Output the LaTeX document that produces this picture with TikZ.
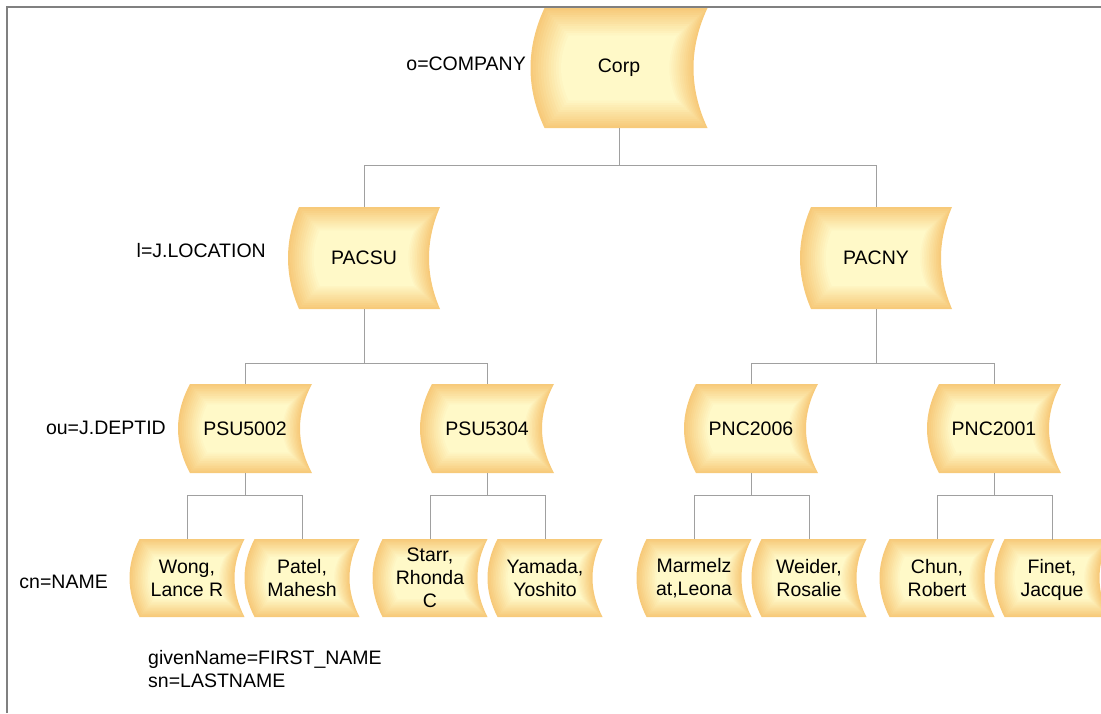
\documentclass[tikz,border=0pt]{standalone}
\usepackage{fontspec}
\setmainfont{Liberation Sans}
\usepackage{xcolor}
\usepackage{tikz}
\usetikzlibrary{positioning, calc, backgrounds}
\definecolor{bannerout}{RGB}{247,202,122}
\definecolor{bannerin}{RGB}{255,249,200}
\definecolor{linkgray}{RGB}{160,160,160}
\definecolor{framegray}{RGB}{128,128,128}

% concentric bands of a banner of width #1, height #2, bulge #3, at the origin
\newcommand{\bannerfill}[3]{%
  \foreach \k in {0,...,12}{%
    \pgfmathsetmacro{\ins}{\k*0.019*#2}
    \pgfmathsetmacro{\bw}{#1-2*\ins}
    \pgfmathsetmacro{\bh}{#2-2*\ins}
    \pgfmathsetmacro{\bd}{#3*\bh/#2}
    \pgfmathsetmacro{\xl}{-\bw/2+\bd/2}
    \pgfmathsetmacro{\xr}{\bw/2+\bd/2}
    \pgfmathsetmacro{\cl}{-\bw/2-5*\bd/6}
    \pgfmathsetmacro{\cr}{\bw/2-5*\bd/6}
    \pgfmathsetmacro{\hy}{\bh/2}
    \pgfmathsetmacro{\qy}{\bh/6}
    \pgfmathtruncatemacro{\mix}{100-\k*100/12}
    \fill[bannerout!\mix!bannerin]
      (\xl,-\hy) -- (\xr,-\hy) .. controls (\cr,-\qy) and (\cr,\qy) .. (\xr,\hy)
      -- (\xl,\hy) .. controls (\cl,\qy) and (\cl,-\qy) .. (\xl,-\hy) -- cycle;
  }%
}

\begin{document}
\begin{tikzpicture}[x=1pt, y=-1pt,
    font=\fontsize{19.5}{23}\selectfont,
    entry/.style 2 args={minimum width=#1, minimum height=#2,
      inner sep=0pt, align=center},
    rootbox/.style={entry={177}{120}},
    locbox/.style={entry={152}{102}},
    deptbox/.style={entry={134}{89}},
    personbox/.style={entry={115}{78}},
    level/.style={anchor=east, inner sep=0pt},
    link/.style={draw=linkgray, line width=1pt},
    frame/.style={draw=framegray, line width=1.5pt}]
    \useasboundingbox (0,0) rectangle (1101,713);
    \clip (0,0) rectangle (1101,713);
    \draw[frame] (7,713) -- (7,7) -- (1101,7);

    % tree
    \node[rootbox] (corp) at (619,68) {Corp};
    \node[locbox] (pacsu) at (364,258) {PACSU};
    \node[locbox] (pacny) at (876,258) {PACNY};
    \node[deptbox] (psu5002) at (245,428.5) {PSU5002};
    \node[deptbox] (psu5304) at (487,428.5) {PSU5304};
    \node[deptbox] (pnc2006) at (751,428.5) {PNC2006};
    \node[deptbox] (pnc2001) at (994,428.5) {PNC2001};
    \node[personbox] (wong) at (187,578) {Wong,\\Lance R};
    \node[personbox] (patel) at (302,578) {Patel,\\Mahesh};
    \node[personbox] (starr) at (430,578) {Starr,\\Rhonda\\C};
    \node[personbox] (yamada) at (545,578) {Yamada,\\Yoshito};
    \node[personbox] (marmelzat) at (694,578) {Marmelz\\at,Leona};
    \node[personbox] (weider) at (809,578) {Weider,\\Rosalie};
    \node[personbox] (chun) at (937,578) {Chun,\\Robert};
    \node[personbox] (finet) at (1052,579.5) {Finet,\\Jacque};

    % banner backgrounds
    \begin{scope}[on background layer]
      \foreach \n/\w/\h/\d in {corp/163/120/14, pacsu/141/102/11, pacny/141/102/11,
          psu5002/122/89/12, psu5304/122/89/12, pnc2006/122/89/12, pnc2001/122/89/12,
          wong/105/78/10, patel/105/78/10, starr/105/78/10, yamada/105/78/10,
          marmelzat/105/78/10, weider/105/78/10, chun/105/78/10}{
        \begin{scope}[shift={(\n.center)}]
          \bannerfill{\w}{\h}{\d}
        \end{scope}
      }
      \begin{scope}[shift={(finet.center)}, yshift=1.5pt]
        \bannerfill{105}{78}{10}
      \end{scope}
    \end{scope}

    % connectors
    \draw[link] (corp.south) -- ++(0,37) coordinate (bus0);
    \draw[link] (bus0) -| (pacsu.north);
    \draw[link] (bus0) -| (pacny.north);
    \draw[link] (pacsu.south) -- ++(0,54) coordinate (bus1);
    \draw[link] (bus1) -| (psu5002.north);
    \draw[link] (bus1) -| (psu5304.north);
    \draw[link] (pacny.south) -- ++(0,54) coordinate (bus2);
    \draw[link] (bus2) -| (pnc2006.north);
    \draw[link] (bus2) -| (pnc2001.north);
    \foreach \dept/\left/\right in {psu5002/wong/patel, psu5304/starr/yamada,
        pnc2006/marmelzat/weider, pnc2001/chun/finet}{
      \draw[link] (\dept.south) -- ++(0,22) coordinate (bus-\dept);
      \draw[link] (bus-\dept) -| (\left.north);
      \draw[link] (bus-\dept) -| (\right.north);
    }

    % attribute labels
    \node[level] (lcompany) at (526,64) {o=COMPANY};
    \node[level] (llocation) at (266,251) {l=J.LOCATION};
    \node[level] (ldept) at (166,428) {ou=J.DEPTID};
    \node[level] (lname) at (108,582) {cn=NAME};
    \node[anchor=north west, inner sep=0pt, align=left] (lnote) at (148,650)
      {givenName=FIRST\_NAME\\sn=LASTNAME};
\end{tikzpicture}
\end{document}
